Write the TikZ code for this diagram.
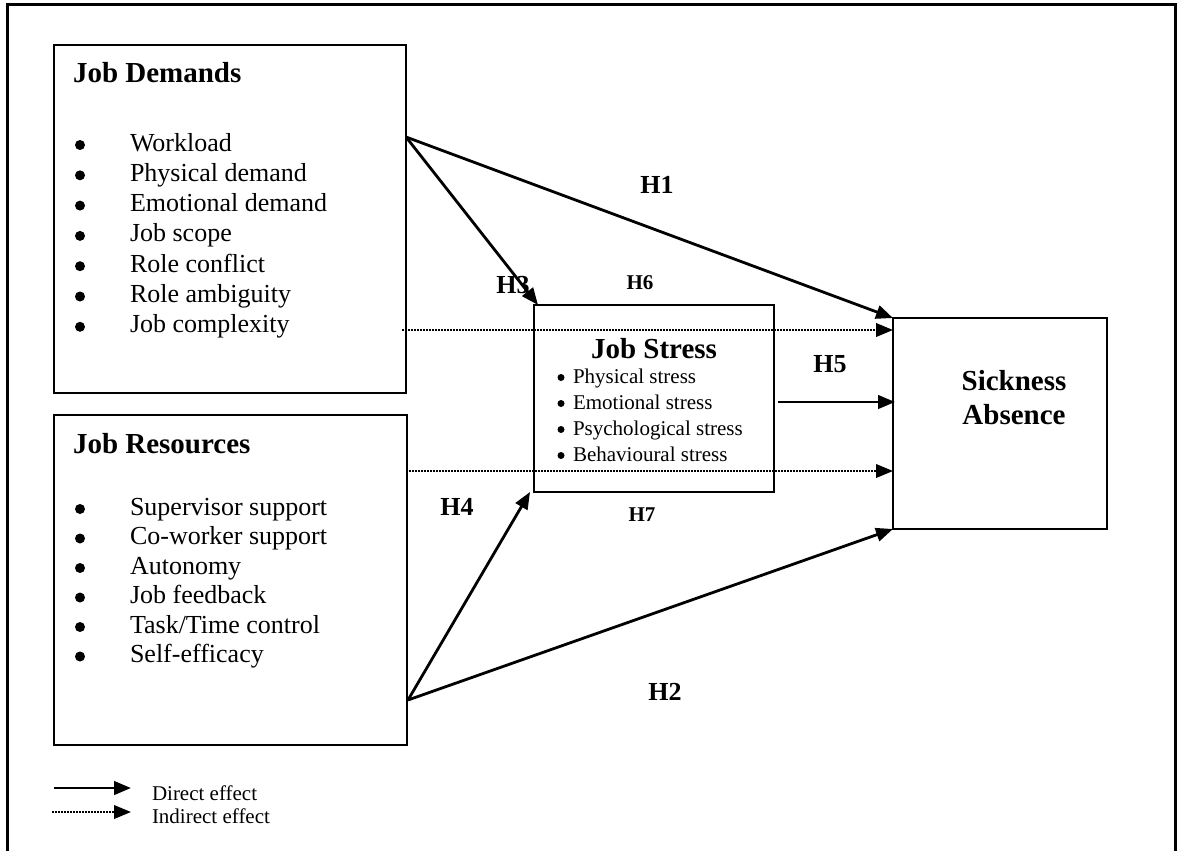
\documentclass[tikz,border=0pt]{standalone}
\usepackage{fontspec}
\setmainfont{Liberation Serif}
\usetikzlibrary{arrows.meta,calc}
\begin{document}
\begin{tikzpicture}[x=1pt,y=-1pt,
  box/.style={draw,line width=2.2pt,rectangle,inner sep=0pt,outer sep=0pt},
  tip/.style={-{Triangle[length=17pt,width=13.5pt]}},
  arr/.style={line width=2.8pt,tip},
  dotarr/.style={line width=2.2pt,dash pattern=on 1.5pt off 1.5pt,tip},
  txt/.style={inner sep=0pt,outer sep=0pt},
  item/.style={txt,font=\fontsize{26}{30}\selectfont},
  small/.style={txt,font=\fontsize{21}{25}\selectfont},
  ttl/.style={txt,font=\fontsize{29}{33}\selectfont\bfseries},
  hbig/.style={txt,font=\fontsize{26}{30}\selectfont\bfseries},
  hsmall/.style={txt,font=\fontsize{21}{25}\selectfont\bfseries},
  bul/.style={circle,fill,inner sep=0pt,outer sep=0pt,minimum size=10pt},
  sbul/.style={circle,fill,inner sep=0pt,outer sep=0pt,minimum size=7pt}]
\useasboundingbox (0,0) rectangle (1177,851);
\fill[white] (0,0) rectangle (1177,851);
% outer frame (open at the bottom)
\coordinate (f1) at (7,851);
\coordinate (f2) at (7,5);
\coordinate (f3) at (1175,5);
\coordinate (f4) at (1175,851);
\draw[line width=3pt] (f1) -- (f2) -- (f3) -- (f4);

% boxes
\node[box,minimum width=352pt,minimum height=348pt] (jd) at (230,219) {};
\node[box,minimum width=353pt,minimum height=330pt] (jr) at (230.5,580) {};
\node[box,minimum width=240pt,minimum height=187pt] (js) at (654,398.5) {};
\node[box,minimum width=214pt,minimum height=211pt] (sa) at (1000,423.5) {};

% Job Demands
\node[ttl,anchor=base west] (jdt) at (73,82) {Job Demands};
\foreach \t [count=\i from 0] in {Workload,Physical demand,Emotional demand,Job scope,Role conflict,Role ambiguity,Job complexity}{
  \node[bul] (jdb\i) at (80,{151+30.3*\i-6}) {};
  \node[item,anchor=base west] (jdi\i) at (130,{151+30.3*\i}) {\t};
}

% Job Resources
\node[ttl,anchor=base west] (jrt) at (73,453) {Job Resources};
\foreach \t [count=\i from 0] in {Supervisor support,Co-worker support,Autonomy,Job feedback,Task/Time control,Self-efficacy}{
  \node[bul] (jrb\i) at (80,{515+29.5*\i-6}) {};
  \node[item,anchor=base west] (jri\i) at (130,{515+29.5*\i}) {\t};
}

% Job Stress
\node[ttl,anchor=base] (jst) at (654,358) {Job Stress};
\foreach \t [count=\i from 0] in {Physical stress,Emotional stress,Psychological stress,Behavioural stress}{
  \node[sbul] (jsb\i) at (561,{383+26*\i-5.5}) {};
  \node[small,anchor=base west] (jsi\i) at (573,{383+26*\i}) {\t};
}

% Sickness Absence
\node[ttl,anchor=base] (sat1) at (1014,390) {Sickness};
\node[ttl,anchor=base] (sat2) at (1014,424) {Absence};

% connectors
\draw[arr] ($(jd.north east)+(0,92)$) -- (sa.north west);
\draw[arr] ($(jd.north east)+(0,92)$) -- ($(js.north west)+(4,0)$);
\draw[dotarr] ($(jd.north east)+(-4,285)$) -- ($(sa.north west)+(0,12)$);
\draw[arr] ($(js.east)+(4,3.5)$) -- ($(sa.west)+(2,-21.5)$);
\draw[dotarr] ($(jr.north east)+(-1,56)$) -- ($(sa.south west)+(0,-58)$);
\draw[arr] ($(jr.north east)+(1,285)$) -- ($(js.south west)+(-4,0)$);
\draw[arr] ($(jr.north east)+(1,285)$) -- (sa.south west);

% hypothesis labels
\node[hbig] (h1) at (657,185) {H1};
\node[hbig] (h3) at (513,285) {H3};
\node[hsmall] (h6) at (640,283) {H6};
\node[hbig] (h5) at (830,364) {H5};
\node[hbig] (h4) at (457,507) {H4};
\node[hsmall] (h7) at (642,515) {H7};
\node[hbig] (h2) at (665,692) {H2};

% legend
\coordinate (l1a) at (54,788);
\coordinate (l1b) at (131,788);
\coordinate (l2a) at (52,812);
\coordinate (l2b) at (131,812);
\draw[arr] (l1a) -- (l1b);
\draw[dotarr] (l2a) -- (l2b);
\node[small,anchor=base west] (lt1) at (152,800) {Direct effect};
\node[small,anchor=base west] (lt2) at (152,823) {Indirect effect};
\end{tikzpicture}
\end{document}
